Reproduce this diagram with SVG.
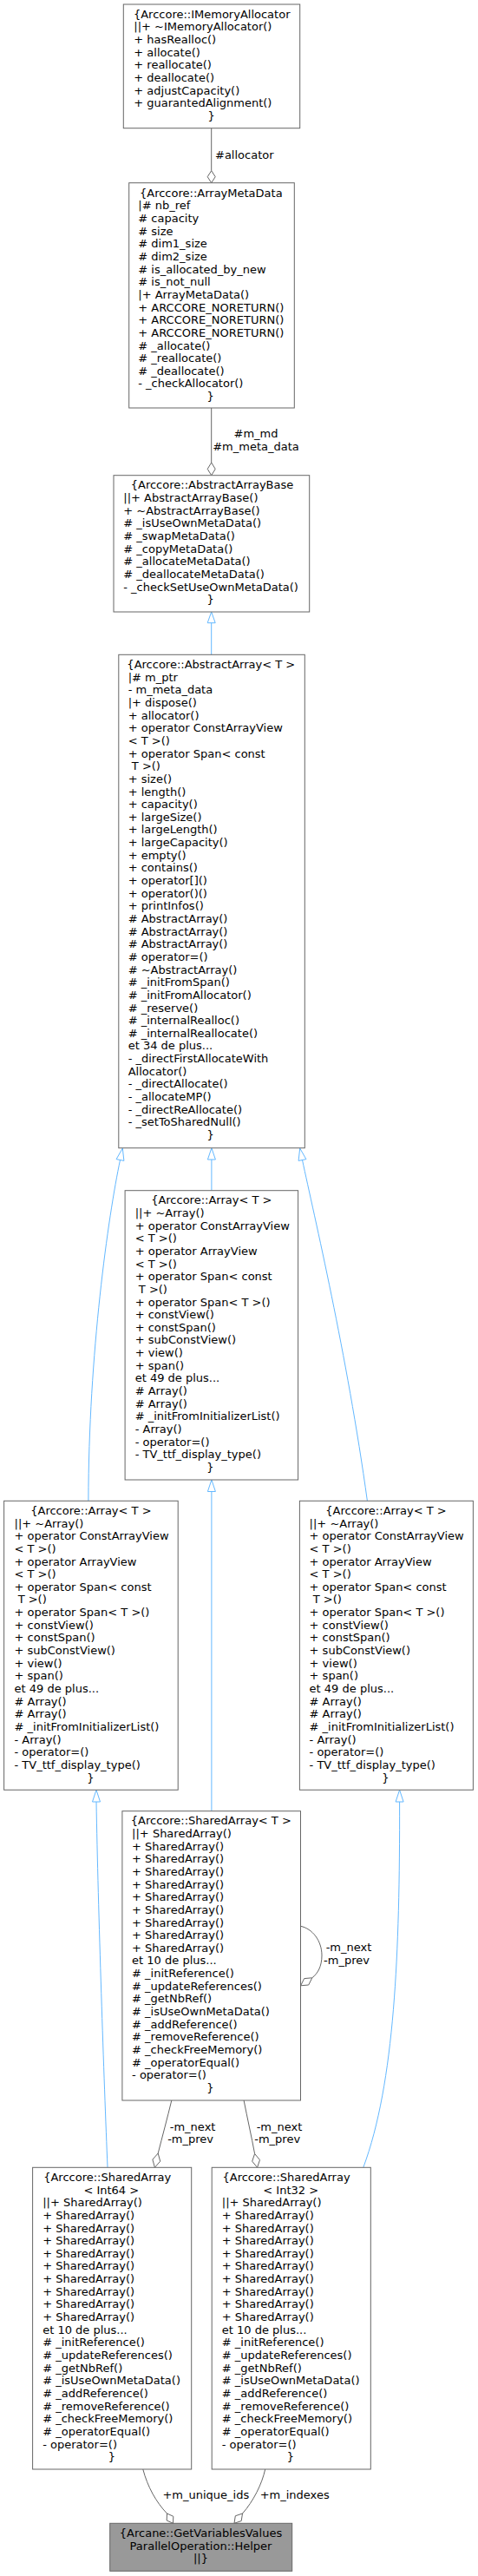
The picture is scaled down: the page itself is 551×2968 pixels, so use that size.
<svg xmlns="http://www.w3.org/2000/svg" width="551" height="2968" viewBox="0 0 551 2968">
<style>
.bg{fill:#fff}
.n rect{fill:#fff;stroke:#666;stroke-width:1}
.n rect.main{fill:#999}
text{font-family:"DejaVu Sans",sans-serif;font-size:13px;fill:#000}
.m{text-anchor:middle}
.inh{stroke:#63b8ff;stroke-width:1;fill:none}
.inhh{stroke:#63b8ff;stroke-width:1;fill:#fff}
.use{stroke:#666;stroke-width:1;fill:none}
.dia{stroke:#666;stroke-width:1;fill:#fff}
</style>
<rect class="bg" x="0" y="0" width="551" height="2968"/>

<g id="connectors">
  <!-- IMemoryAllocator -> ArrayMetaData -->
  <path class="use" d="M243.7,147.7 V196.7"/>
  <polygon class="dia" points="243.7,196.7 248.2,203.7 243.7,210.7 239.2,203.7"/>
  <text x="248" y="182.7">#allocator</text>
  <!-- ArrayMetaData -> AbstractArrayBase -->
  <path class="use" d="M243.7,470 V533"/>
  <polygon class="dia" points="243.7,533 248.2,540.35 243.7,547.7 239.2,540.35"/>
  <text class="m" x="295" y="504">#m_md</text>
  <text class="m" x="295" y="519.3">#m_meta_data</text>
  <!-- AbstractArrayBase -> AbstractArray -->
  <path class="inh" d="M243.7,717.7 V754.3"/>
  <polygon class="inhh" points="243.7,705 248.2,717.7 239.2,717.7"/>
  <!-- AbstractArray -> Array middle -->
  <path class="inh" d="M243.9,1336 V1371.7"/>
  <polygon class="inhh" points="243.9,1322.7 248.4,1336 239.4,1336"/>
  <!-- AbstractArray -> Array left -->
  <path class="inh" d="M138.5,1336.5 C125,1400 102,1560 101.9,1729.3"/>
  <polygon class="inhh" points="141.3,1323 142.9,1337.4 134.1,1335.6"/>
  <!-- AbstractArray -> Array right -->
  <path class="inh" d="M348.5,1336.5 C362,1400 400,1560 423.4,1729.3"/>
  <polygon class="inhh" points="345.7,1323 352.9,1335.6 344.1,1337.4"/>
  <!-- Array middle -> SharedArray<T> -->
  <path class="inh" d="M243.9,1718.5 V2086.7"/>
  <polygon class="inhh" points="243.9,1705 248.4,1718.5 239.4,1718.5"/>
  <!-- Array left -> SharedArray<Int64> -->
  <path class="inh" d="M111,2076 C113,2200 120,2400 124,2497.3"/>
  <polygon class="inhh" points="111,2062.3 115.5,2076 106.5,2076"/>
  <!-- Array right -> SharedArray<Int32> -->
  <path class="inh" d="M460.6,2076 C461,2250 455,2400 418.8,2497.3"/>
  <polygon class="inhh" points="460.6,2062.3 465.1,2076 456.1,2076"/>
  <!-- SharedArray<T> self loop -->
  <path class="use" d="M346.5,2219.3 C360,2222 371,2236 371,2253 C371,2266 366,2274 359.8,2278.8"/>
  <polygon class="dia" points="346.6,2287.8 355.7,2287.0 359.8,2278.8 350.7,2279.6"/>
  <text class="m" x="402" y="2248.3">-m_next</text>
  <text class="m" x="399.5" y="2263.3">-m_prev</text>
  <!-- SharedArray<T> -> Int64 -->
  <path class="use" d="M197.8,2420 C193,2440 187,2462 182.2,2481"/>
  <polygon class="dia" points="178.4,2497.3 184.7,2490.2 182.2,2481 175.9,2488.1"/>
  <text class="m" x="222.1" y="2455">-m_next</text>
  <text class="m" x="219.6" y="2469">-m_prev</text>
  <!-- SharedArray<T> -> Int32 -->
  <path class="use" d="M281.1,2420 C285,2440 290,2462 293.6,2481.5"/>
  <polygon class="dia" points="296.6,2497.3 299.5,2488.6 293.6,2481.5 290.7,2490.2"/>
  <text class="m" x="322" y="2455">-m_next</text>
  <text class="m" x="319.7" y="2469">-m_prev</text>
  <!-- Int64 -> Helper -->
  <path class="use" d="M164.8,2845 C170,2865 180,2883 192.5,2896"/>
  <polygon class="dia" points="199.5,2907.3 199.8,2899.3 192.5,2896 192.2,2904"/>
  <text class="m" x="237.3" y="2878.7">+m_unique_ids</text>
  <!-- Int32 -> Helper -->
  <path class="use" d="M305.7,2845 C302,2862 292,2882 279.5,2896"/>
  <polygon class="dia" points="270,2907.3 278.2,2904.55 279.5,2896 271.3,2898.75"/>
  <text class="m" x="339.7" y="2878.7">+m_indexes</text>
</g>

<g id="IMemoryAllocator" class="n">
  <rect x="142.3" y="5" width="203.4" height="142.7"/>
  <text class="m" x="244.2" y="20.7">{Arccore::IMemoryAllocator</text>
  <text x="154.3" y="35.35"><tspan x="154.3" y="35.35">||+ ~IMemoryAllocator()</tspan><tspan x="154.3" dy="14.65">+ hasRealloc()</tspan><tspan x="154.3" dy="14.65">+ allocate()</tspan><tspan x="154.3" dy="14.65">+ reallocate()</tspan><tspan x="154.3" dy="14.65">+ deallocate()</tspan><tspan x="154.3" dy="14.65">+ adjustCapacity()</tspan><tspan x="154.3" dy="14.65">+ guarantedAlignment()</tspan></text>
  <text class="m" x="243.7" y="137.9">}</text>
</g>

<g id="ArrayMetaData" class="n">
  <rect x="148.7" y="210.7" width="190.6" height="259.3"/>
  <text class="m" x="243.3" y="226.7">{Arccore::ArrayMetaData</text>
  <text x="159.3" y="241.35"><tspan x="159.3" y="241.35">|# nb_ref</tspan><tspan x="159.3" dy="14.65"># capacity</tspan><tspan x="159.3" dy="14.65"># size</tspan><tspan x="159.3" dy="14.65"># dim1_size</tspan><tspan x="159.3" dy="14.65"># dim2_size</tspan><tspan x="159.3" dy="14.65"># is_allocated_by_new</tspan><tspan x="159.3" dy="14.65"># is_not_null</tspan><tspan x="159.3" dy="14.65">|+ ArrayMetaData()</tspan><tspan x="159.3" dy="14.65">+ ARCCORE_NORETURN()</tspan><tspan x="159.3" dy="14.65">+ ARCCORE_NORETURN()</tspan><tspan x="159.3" dy="14.65">+ ARCCORE_NORETURN()</tspan><tspan x="159.3" dy="14.65"># _allocate()</tspan><tspan x="159.3" dy="14.65"># _reallocate()</tspan><tspan x="159.3" dy="14.65"># _deallocate()</tspan><tspan x="159.3" dy="14.65">- _checkAllocator()</tspan></text>
  <text class="m" x="242.7" y="461.1">}</text>
</g>

<g id="AbstractArrayBase" class="n">
  <rect x="131" y="547.7" width="225.7" height="157.3"/>
  <text class="m" x="244.5" y="563.3">{Arccore::AbstractArrayBase</text>
  <text x="142.3" y="577.95"><tspan x="142.3" y="577.95">||+ AbstractArrayBase()</tspan><tspan x="142.3" dy="14.65">+ ~AbstractArrayBase()</tspan><tspan x="142.3" dy="14.65"># _isUseOwnMetaData()</tspan><tspan x="142.3" dy="14.65"># _swapMetaData()</tspan><tspan x="142.3" dy="14.65"># _copyMetaData()</tspan><tspan x="142.3" dy="14.65"># _allocateMetaData()</tspan><tspan x="142.3" dy="14.65"># _deallocateMetaData()</tspan><tspan x="142.3" dy="14.65">- _checkSetUseOwnMetaData()</tspan></text>
  <text class="m" x="242.7" y="695.15">}</text>
</g>

<g id="AbstractArray" class="n">
  <rect x="136.8" y="754.3" width="214.5" height="568.4"/>
  <text class="m" x="243.3" y="770">{Arccore::AbstractArray&lt; T &gt;</text>
  <text x="147.7" y="784.65"><tspan x="147.7" y="784.65">|# m_ptr</tspan><tspan x="147.7" dy="14.65">- m_meta_data</tspan><tspan x="147.7" dy="14.65">|+ dispose()</tspan><tspan x="147.7" dy="14.65">+ allocator()</tspan><tspan x="147.7" dy="14.65">+ operator ConstArrayView</tspan><tspan x="147.7" dy="14.65">&lt; T &gt;()</tspan><tspan x="147.7" dy="14.65">+ operator Span&lt; const</tspan><tspan x="147.7" dy="14.65">&#160;T &gt;()</tspan><tspan x="147.7" dy="14.65">+ size()</tspan><tspan x="147.7" dy="14.65">+ length()</tspan><tspan x="147.7" dy="14.65">+ capacity()</tspan><tspan x="147.7" dy="14.65">+ largeSize()</tspan><tspan x="147.7" dy="14.65">+ largeLength()</tspan><tspan x="147.7" dy="14.65">+ largeCapacity()</tspan><tspan x="147.7" dy="14.65">+ empty()</tspan><tspan x="147.7" dy="14.65">+ contains()</tspan><tspan x="147.7" dy="14.65">+ operator[]()</tspan><tspan x="147.7" dy="14.65">+ operator()()</tspan><tspan x="147.7" dy="14.65">+ printInfos()</tspan><tspan x="147.7" dy="14.65"># AbstractArray()</tspan><tspan x="147.7" dy="14.65"># AbstractArray()</tspan><tspan x="147.7" dy="14.65"># AbstractArray()</tspan><tspan x="147.7" dy="14.65"># operator=()</tspan><tspan x="147.7" dy="14.65"># ~AbstractArray()</tspan><tspan x="147.7" dy="14.65"># _initFromSpan()</tspan><tspan x="147.7" dy="14.65"># _initFromAllocator()</tspan><tspan x="147.7" dy="14.65"># _reserve()</tspan><tspan x="147.7" dy="14.65"># _internalRealloc()</tspan><tspan x="147.7" dy="14.65"># _internalReallocate()</tspan><tspan x="147.7" dy="14.65">et 34 de plus...</tspan><tspan x="147.7" dy="14.65">- _directFirstAllocateWith</tspan><tspan x="147.7" dy="14.65">Allocator()</tspan><tspan x="147.7" dy="14.65">- _directAllocate()</tspan><tspan x="147.7" dy="14.65">- _allocateMP()</tspan><tspan x="147.7" dy="14.65">- _directReAllocate()</tspan><tspan x="147.7" dy="14.65">- _setToSharedNull()</tspan></text>
  <text class="m" x="242.7" y="1312.05">}</text>
</g>

<g id="ArrayMiddle" class="n">
  <rect x="144.1" y="1371.7" width="199.5" height="333.3"/>
  <text class="m" x="243.8" y="1387.3">{Arccore::Array&lt; T &gt;</text>
  <text x="155.7" y="1401.95"><tspan x="155.7" y="1401.95">||+ ~Array()</tspan><tspan x="155.7" dy="14.65">+ operator ConstArrayView</tspan><tspan x="155.7" dy="14.65">&lt; T &gt;()</tspan><tspan x="155.7" dy="14.65">+ operator ArrayView</tspan><tspan x="155.7" dy="14.65">&lt; T &gt;()</tspan><tspan x="155.7" dy="14.65">+ operator Span&lt; const</tspan><tspan x="155.7" dy="14.65">&#160;T &gt;()</tspan><tspan x="155.7" dy="14.65">+ operator Span&lt; T &gt;()</tspan><tspan x="155.7" dy="14.65">+ constView()</tspan><tspan x="155.7" dy="14.65">+ constSpan()</tspan><tspan x="155.7" dy="14.65">+ subConstView()</tspan><tspan x="155.7" dy="14.65">+ view()</tspan><tspan x="155.7" dy="14.65">+ span()</tspan><tspan x="155.7" dy="14.65">et 49 de plus...</tspan><tspan x="155.7" dy="14.65"># Array()</tspan><tspan x="155.7" dy="14.65"># Array()</tspan><tspan x="155.7" dy="14.65"># _initFromInitializerList()</tspan><tspan x="155.7" dy="14.65">- Array()</tspan><tspan x="155.7" dy="14.65">- operator=()</tspan><tspan x="155.7" dy="14.65">- TV_ttf_display_type()</tspan></text>
  <text class="m" x="242.4" y="1694.95">}</text>
</g>

<g id="ArrayLeft" class="n">
  <rect x="4.6" y="1729.3" width="200.6" height="333"/>
  <text class="m" x="104.9" y="1744.9">{Arccore::Array&lt; T &gt;</text>
  <text x="16.5" y="1759.55"><tspan x="16.5" y="1759.55">||+ ~Array()</tspan><tspan x="16.5" dy="14.65">+ operator ConstArrayView</tspan><tspan x="16.5" dy="14.65">&lt; T &gt;()</tspan><tspan x="16.5" dy="14.65">+ operator ArrayView</tspan><tspan x="16.5" dy="14.65">&lt; T &gt;()</tspan><tspan x="16.5" dy="14.65">+ operator Span&lt; const</tspan><tspan x="16.5" dy="14.65">&#160;T &gt;()</tspan><tspan x="16.5" dy="14.65">+ operator Span&lt; T &gt;()</tspan><tspan x="16.5" dy="14.65">+ constView()</tspan><tspan x="16.5" dy="14.65">+ constSpan()</tspan><tspan x="16.5" dy="14.65">+ subConstView()</tspan><tspan x="16.5" dy="14.65">+ view()</tspan><tspan x="16.5" dy="14.65">+ span()</tspan><tspan x="16.5" dy="14.65">et 49 de plus...</tspan><tspan x="16.5" dy="14.65"># Array()</tspan><tspan x="16.5" dy="14.65"># Array()</tspan><tspan x="16.5" dy="14.65"># _initFromInitializerList()</tspan><tspan x="16.5" dy="14.65">- Array()</tspan><tspan x="16.5" dy="14.65">- operator=()</tspan><tspan x="16.5" dy="14.65">- TV_ttf_display_type()</tspan></text>
  <text class="m" x="104.4" y="2052.55">}</text>
</g>

<g id="ArrayRight" class="n">
  <rect x="345.4" y="1729.3" width="200" height="333"/>
  <text class="m" x="445" y="1744.9">{Arccore::Array&lt; T &gt;</text>
  <text x="356.6" y="1759.55"><tspan x="356.6" y="1759.55">||+ ~Array()</tspan><tspan x="356.6" dy="14.65">+ operator ConstArrayView</tspan><tspan x="356.6" dy="14.65">&lt; T &gt;()</tspan><tspan x="356.6" dy="14.65">+ operator ArrayView</tspan><tspan x="356.6" dy="14.65">&lt; T &gt;()</tspan><tspan x="356.6" dy="14.65">+ operator Span&lt; const</tspan><tspan x="356.6" dy="14.65">&#160;T &gt;()</tspan><tspan x="356.6" dy="14.65">+ operator Span&lt; T &gt;()</tspan><tspan x="356.6" dy="14.65">+ constView()</tspan><tspan x="356.6" dy="14.65">+ constSpan()</tspan><tspan x="356.6" dy="14.65">+ subConstView()</tspan><tspan x="356.6" dy="14.65">+ view()</tspan><tspan x="356.6" dy="14.65">+ span()</tspan><tspan x="356.6" dy="14.65">et 49 de plus...</tspan><tspan x="356.6" dy="14.65"># Array()</tspan><tspan x="356.6" dy="14.65"># Array()</tspan><tspan x="356.6" dy="14.65"># _initFromInitializerList()</tspan><tspan x="356.6" dy="14.65">- Array()</tspan><tspan x="356.6" dy="14.65">- operator=()</tspan><tspan x="356.6" dy="14.65">- TV_ttf_display_type()</tspan></text>
  <text class="m" x="444.5" y="2052.55">}</text>
</g>

<g id="SharedArrayT" class="n">
  <rect x="140.9" y="2086.7" width="205.6" height="333.3"/>
  <text class="m" x="243.3" y="2102.3">{Arccore::SharedArray&lt; T &gt;</text>
  <text x="152.1" y="2116.95"><tspan x="152.1" y="2116.95">||+ SharedArray()</tspan><tspan x="152.1" dy="14.65">+ SharedArray()</tspan><tspan x="152.1" dy="14.65">+ SharedArray()</tspan><tspan x="152.1" dy="14.65">+ SharedArray()</tspan><tspan x="152.1" dy="14.65">+ SharedArray()</tspan><tspan x="152.1" dy="14.65">+ SharedArray()</tspan><tspan x="152.1" dy="14.65">+ SharedArray()</tspan><tspan x="152.1" dy="14.65">+ SharedArray()</tspan><tspan x="152.1" dy="14.65">+ SharedArray()</tspan><tspan x="152.1" dy="14.65">+ SharedArray()</tspan><tspan x="152.1" dy="14.65">et 10 de plus...</tspan><tspan x="152.1" dy="14.65"># _initReference()</tspan><tspan x="152.1" dy="14.65"># _updateReferences()</tspan><tspan x="152.1" dy="14.65"># _getNbRef()</tspan><tspan x="152.1" dy="14.65"># _isUseOwnMetaData()</tspan><tspan x="152.1" dy="14.65"># _addReference()</tspan><tspan x="152.1" dy="14.65"># _removeReference()</tspan><tspan x="152.1" dy="14.65"># _checkFreeMemory()</tspan><tspan x="152.1" dy="14.65"># _operatorEqual()</tspan><tspan x="152.1" dy="14.65">- operator=()</tspan></text>
  <text class="m" x="242.4" y="2409.95">}</text>
</g>

<g id="SharedArrayInt64" class="n">
  <rect x="37.6" y="2497.3" width="183.1" height="347.7"/>
  <text x="50.2" y="2512.9">{Arccore::SharedArray</text>
  <text class="m" x="128.3" y="2527.55">&lt; Int64 &gt;</text>
  <text x="49.2" y="2542.2"><tspan x="49.2" y="2542.2">||+ SharedArray()</tspan><tspan x="49.2" dy="14.65">+ SharedArray()</tspan><tspan x="49.2" dy="14.65">+ SharedArray()</tspan><tspan x="49.2" dy="14.65">+ SharedArray()</tspan><tspan x="49.2" dy="14.65">+ SharedArray()</tspan><tspan x="49.2" dy="14.65">+ SharedArray()</tspan><tspan x="49.2" dy="14.65">+ SharedArray()</tspan><tspan x="49.2" dy="14.65">+ SharedArray()</tspan><tspan x="49.2" dy="14.65">+ SharedArray()</tspan><tspan x="49.2" dy="14.65">+ SharedArray()</tspan><tspan x="49.2" dy="14.65">et 10 de plus...</tspan><tspan x="49.2" dy="14.65"># _initReference()</tspan><tspan x="49.2" dy="14.65"># _updateReferences()</tspan><tspan x="49.2" dy="14.65"># _getNbRef()</tspan><tspan x="49.2" dy="14.65"># _isUseOwnMetaData()</tspan><tspan x="49.2" dy="14.65"># _addReference()</tspan><tspan x="49.2" dy="14.65"># _removeReference()</tspan><tspan x="49.2" dy="14.65"># _checkFreeMemory()</tspan><tspan x="49.2" dy="14.65"># _operatorEqual()</tspan><tspan x="49.2" dy="14.65">- operator=()</tspan></text>
  <text class="m" x="129" y="2835.2">}</text>
</g>

<g id="SharedArrayInt32" class="n">
  <rect x="244.2" y="2497.3" width="183.1" height="347.7"/>
  <text x="256.5" y="2512.9">{Arccore::SharedArray</text>
  <text class="m" x="335.2" y="2527.55">&lt; Int32 &gt;</text>
  <text x="255.8" y="2542.2"><tspan x="255.8" y="2542.2">||+ SharedArray()</tspan><tspan x="255.8" dy="14.65">+ SharedArray()</tspan><tspan x="255.8" dy="14.65">+ SharedArray()</tspan><tspan x="255.8" dy="14.65">+ SharedArray()</tspan><tspan x="255.8" dy="14.65">+ SharedArray()</tspan><tspan x="255.8" dy="14.65">+ SharedArray()</tspan><tspan x="255.8" dy="14.65">+ SharedArray()</tspan><tspan x="255.8" dy="14.65">+ SharedArray()</tspan><tspan x="255.8" dy="14.65">+ SharedArray()</tspan><tspan x="255.8" dy="14.65">+ SharedArray()</tspan><tspan x="255.8" dy="14.65">et 10 de plus...</tspan><tspan x="255.8" dy="14.65"># _initReference()</tspan><tspan x="255.8" dy="14.65"># _updateReferences()</tspan><tspan x="255.8" dy="14.65"># _getNbRef()</tspan><tspan x="255.8" dy="14.65"># _isUseOwnMetaData()</tspan><tspan x="255.8" dy="14.65"># _addReference()</tspan><tspan x="255.8" dy="14.65"># _removeReference()</tspan><tspan x="255.8" dy="14.65"># _checkFreeMemory()</tspan><tspan x="255.8" dy="14.65"># _operatorEqual()</tspan><tspan x="255.8" dy="14.65">- operator=()</tspan></text>
  <text class="m" x="334.9" y="2835.2">}</text>
</g>

<g id="Helper" class="n">
  <rect class="main" x="126.7" y="2907.3" width="210" height="55"/>
  <text class="m" x="231.5" y="2922.9">{Arcane::GetVariablesValues</text>
  <text class="m" x="231.5" y="2937.55">ParallelOperation::Helper</text>
  <text class="m" x="231.5" y="2952.2">||}</text>
</g>
</svg>
